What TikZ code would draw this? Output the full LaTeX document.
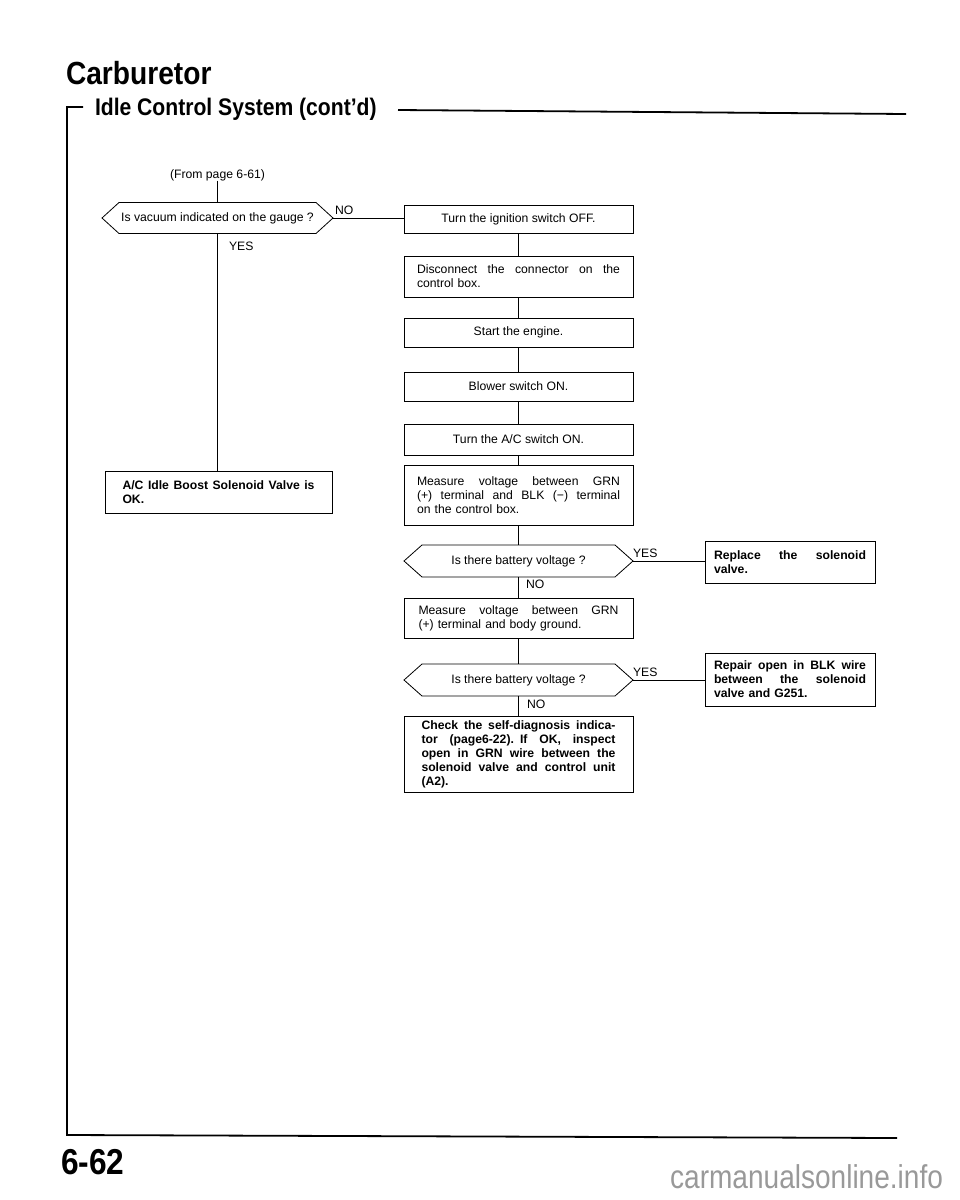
\documentclass[tikz,border=0pt]{standalone}
\usepackage{fontspec}
\setmainfont{Liberation Sans}
\newfontfamily\headfont[FakeStretch=0.88]{Liberation Sans}
\newfontfamily\wmfont[FakeStretch=0.85]{Liberation Sans}
\newcommand\jline[2]{\makebox[#1][s]{\spaceskip=0.28em plus 1fil\relax #2}}
\newcommand\hexa[2]{\draw[line width=0.8pt] (#1.west) -- ([xshift=#2]#1.north west) -- ([xshift=-#2]#1.north east) -- (#1.east) -- ([xshift=-#2]#1.south east) -- ([xshift=#2]#1.south west) -- cycle;}
\begin{document}
\begin{tikzpicture}[x=1pt,y=-1pt,
  every node/.style={inner sep=0pt,outer sep=0pt},
  txt/.style={font=\fontsize{12.2}{14}\selectfont},
  boldtxt/.style={font=\bfseries\fontsize{12.2}{14}\selectfont},
  boxed/.style={draw,line width=0.8pt,minimum width=229pt,align=center},
  decision/.style={txt,minimum width=229pt,minimum height=32pt},
  lbl/.style={txt,anchor=base west},
  conn/.style={line width=0.8pt},
  frame/.style={line width=1.8pt},
  head/.style={anchor=base west,font=\headfont\bfseries\fontsize{#1}{#1}\selectfont}
]
\useasboundingbox (0,0) rectangle (960,1200);

% headings and frame
\node[head=32] (carb) at (66,84) {Carburetor};
\node[head=24] (sect) at (95,115) {Idle Control System (cont’d)};
\coordinate (tick) at (83,107);
\coordinate (ftl) at (67,107);
\coordinate (fbl) at (67,1135);
\coordinate (fbr) at (897,1138);
\coordinate (hl) at (398,110);
\coordinate (hr) at (906,114);
\draw[frame] (tick) -- (ftl) -- (fbl) -- (fbr);
\draw[frame] (hl) -- (hr);
\node[head=36] (pg) at (61,1174) {6-62};
\node[anchor=base east,font=\wmfont\fontsize{33}{33}\selectfont,text=black!40] (wm) at (943,1188) {carmanualsonline.info};

% left column
\node[txt] (from) at (217.5,175) {(From page 6-61)};
\node[decision,minimum width=231pt,minimum height=31pt] (d1) at (217.5,218) {Is vacuum indicated on the gauge ?};
\hexa{d1}{17pt}
\node[lbl] (no1) at (335,214) {NO};
\node[lbl] (yes1) at (229,250) {YES};
\node[boxed,boldtxt,minimum width=227pt,minimum height=42pt,text width=192pt,align=left] (l1) at (218.5,492)
  {\jline{192pt}{A/C Idle Boost Solenoid Valve is}\\OK.};

% right column
\node[boxed,txt,minimum height=28pt] (b1) at (518.5,219) {Turn the ignition switch OFF.};
\node[boxed,txt,minimum height=41pt,text width=203pt,align=left] (b2) at (518.5,276.5)
  {\jline{203pt}{Disconnect the connector on the}\\control box.};
\node[boxed,txt,minimum height=29pt] (b3) at (518.5,332.5) {Start the engine.};
\node[boxed,txt,minimum height=29pt] (b4) at (518.5,386.5) {Blower switch ON.};
\node[boxed,txt,minimum height=31pt] (b5) at (518.5,439.5) {Turn the A/C switch ON.};
\node[boxed,txt,minimum height=60pt,text width=203pt,align=left] (b6) at (518.5,495)
  {\jline{203pt}{Measure voltage between GRN}\\\jline{203pt}{(+) terminal and BLK (−) terminal}\\on the control box.};
\node[decision] (d2) at (518.5,561) {Is there battery voltage ?};
\hexa{d2}{18pt}
\node[lbl] (yes2) at (633,557) {YES};
\node[lbl] (no2) at (526,588) {NO};
\node[boxed,boldtxt,minimum width=170pt,minimum height=42pt,text width=152pt,align=left] (r1) at (790,562)
  {\jline{152pt}{Replace the solenoid}\\valve.};
\node[boxed,txt,minimum height=40pt,text width=200pt,align=left] (b7) at (518.5,618)
  {\jline{200pt}{Measure voltage between GRN}\\(+) terminal and body ground.};
\node[decision] (d3) at (518.5,680) {Is there battery voltage ?};
\hexa{d3}{18pt}
\node[lbl] (yes3) at (633,676) {YES};
\node[lbl] (no3) at (527,708) {NO};
\node[boxed,boldtxt,minimum width=170pt,minimum height=53pt,text width=152pt,align=left] (r2) at (790,679.5)
  {\jline{152pt}{Repair open in BLK wire}\\\jline{152pt}{between the solenoid}\\valve and G251.};
\node[boxed,boldtxt,minimum height=76pt,text width=194pt,align=left] (b8) at (518.5,754)
  {\jline{194pt}{Check the self-diagnosis indica-}\\\jline{194pt}{tor (page6-22). If OK, inspect}\\\jline{194pt}{open in GRN wire between the}\\\jline{194pt}{solenoid valve and control unit}\\(A2).};

% connectors
\draw[conn] (from.south) -- (d1.north);
\draw[conn] (d1.east) -- (d1.east -| b1.west);
\draw[conn] (d1.south) -- (d1.south |- l1.north);
\draw[conn] (b1) -- (b2);
\draw[conn] (b2) -- (b3);
\draw[conn] (b3) -- (b4);
\draw[conn] (b4) -- (b5);
\draw[conn] (b5) -- (b6);
\draw[conn] (b6.south) -- (d2.north);
\draw[conn] (d2.east) -- (d2.east -| r1.west);
\draw[conn] (d2.south) -- (b7.north);
\draw[conn] (b7.south) -- (d3.north);
\draw[conn] (d3.east) -- (d3.east -| r2.west);
\draw[conn] (d3.south) -- (b8.north);
\end{tikzpicture}
\end{document}
